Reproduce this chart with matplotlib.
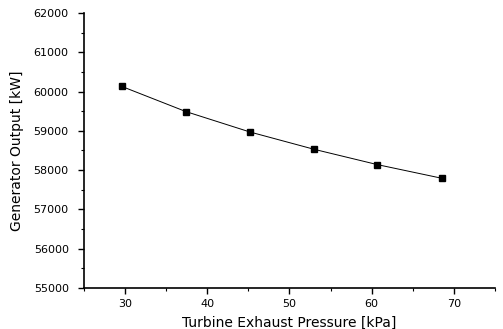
import matplotlib
matplotlib.use("Agg")
import matplotlib.pyplot as plt
from matplotlib.ticker import MultipleLocator

pressure_kpa = [29.6, 37.4, 45.2, 53.0, 60.7, 68.6]
output_kw = [60130, 59490, 58970, 58530, 58140, 57790]

fig = plt.figure(figsize=(5.03, 3.29), dpi=100)
ax = fig.add_axes([0.167, 0.1246, 0.817, 0.836])
ax.plot(pressure_kpa, output_kw, color="black", linewidth=0.7,
        marker="s", markersize=4.5, markerfacecolor="black", markeredgecolor="black")

ax.set_xlim(25, 75)
ax.set_ylim(55000, 62000)
ax.xaxis.set_major_locator(MultipleLocator(10))
ax.xaxis.set_minor_locator(MultipleLocator(5))
ax.yaxis.set_major_locator(MultipleLocator(1000))
ax.yaxis.set_minor_locator(MultipleLocator(500))
for s in ["top", "right"]:
    ax.spines[s].set_visible(False)
for s in ["left", "bottom"]:
    ax.spines[s].set_linewidth(1.2)
ax.tick_params(which="major", direction="out", length=4, width=1, labelsize=8)
ax.tick_params(axis="y", which="major", pad=7)
ax.tick_params(axis="x", which="major", pad=4)
ax.tick_params(which="minor", direction="out", length=2.5, width=0.8)
ax.set_xlabel("Turbine Exhaust Pressure [kPa]", fontsize=10, labelpad=5)
ax.set_ylabel("Generator Output [kW]", fontsize=10, labelpad=7)

fig.savefig("out.png", dpi=100)
